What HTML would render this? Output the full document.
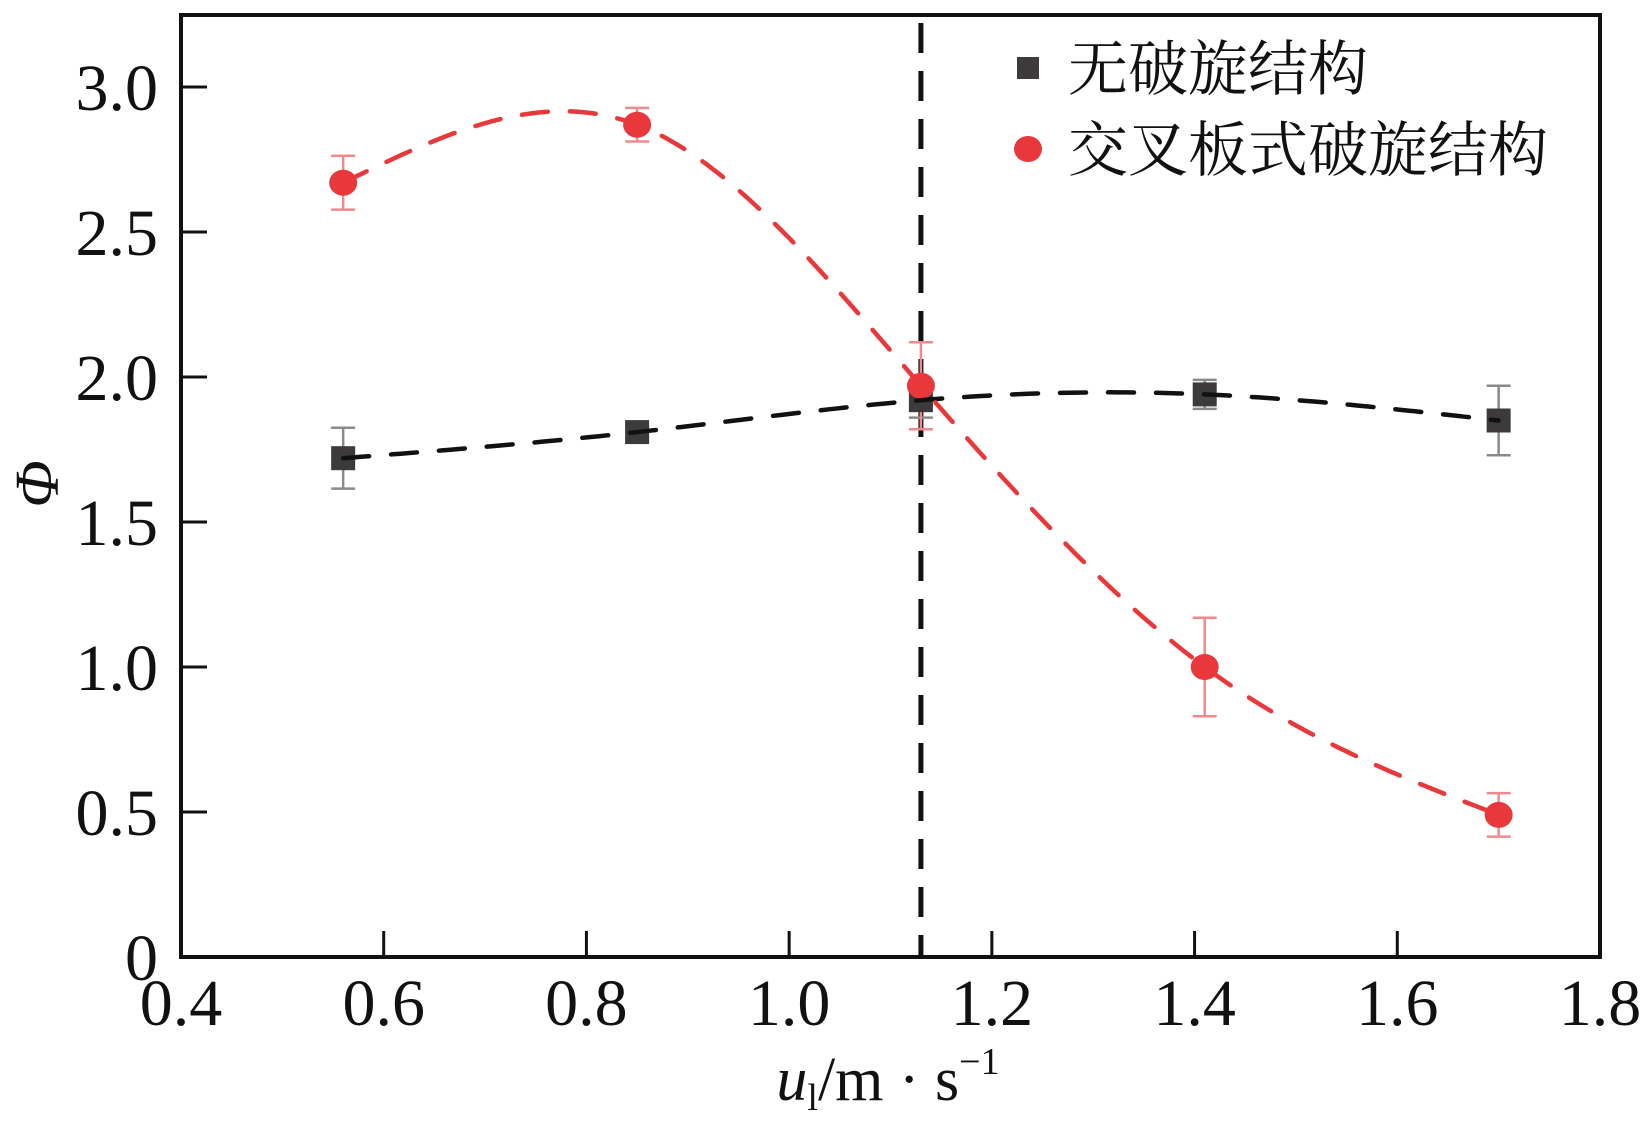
<!DOCTYPE html>
<html><head><meta charset="utf-8"><style>
html,body{margin:0;padding:0;background:#fff;}
svg{display:block;}
text{font-family:"Liberation Serif","Noto Serif CJK SC",serif;fill:#111;}
</style></head><body>
<svg id="chart" width="1645" height="1124" viewBox="0 0 1645 1124" xmlns="http://www.w3.org/2000/svg">
<g id="plot"></g>
</svg>
<script>
const xCats = [0.56, 0.85, 1.13, 1.41, 1.70];
const blackVals = [1.72, 1.81, 1.92, 1.94, 1.85];
const blackErr = [0.105, 0.02, 0.06, 0.05, 0.12];
const redVals = [2.67, 2.87, 1.97, 1.00, 0.49];
const redErr = [0.093, 0.058, 0.15, 0.17, 0.075];
const xTicks = [0.4, 0.6, 0.8, 1.0, 1.2, 1.4, 1.6, 1.8];
const xTickLabels = ["0.4","0.6","0.8","1.0","1.2","1.4","1.6","1.8"];
const yTicks = [0, 0.5, 1.0, 1.5, 2.0, 2.5, 3.0];
const yTickLabels = ["0","0.5","1.0","1.5","2.0","2.5","3.0"];
const vLineX = 1.13;

const L=181,R=1600,T=15,B=957;
const xs = v => L + (v-0.4)/(1.4)*(R-L);
const ys = v => B - v*290;
const NS="http://www.w3.org/2000/svg";
const g=document.getElementById('plot');
function mk(tag,attrs,parent){const e=document.createElementNS(NS,tag);for(const k in attrs)e.setAttribute(k,attrs[k]);(parent||g).appendChild(e);return e;}

let fr=mk('rect',{x:L,y:T,width:R-L,height:B-T,fill:'none',stroke:'#111','stroke-width':4});



xTicks.forEach((t,i)=>{
  if(i>0&&i<xTicks.length-1){
    let tk=mk('line',{x1:xs(t),x2:xs(t),y1:B,y2:B-26,stroke:'#111','stroke-width':3});
    
    
  }
  let tl=mk('text',{x:xs(t),y:1025,'font-size':66,'text-anchor':'middle'});
  tl.textContent=xTickLabels[i];
  
  
});
yTicks.forEach((t,i)=>{
  if(i>0){
    let tk=mk('line',{x1:L,x2:L+26,y1:ys(t),y2:ys(t),stroke:'#111','stroke-width':3});
    
    
  }
  let tl=mk('text',{x:158,y:ys(t)+23,'font-size':66,'text-anchor':'end'});
  tl.textContent=yTickLabels[i];
  
  
});

let vl=mk('line',{x1:xs(vLineX),x2:xs(vLineX),y1:T+8,y2:B,stroke:'#111','stroke-width':5,'stroke-dasharray':'30 18'});



// natural cubic spline through data
function spline(xa,ya){
  const n=xa.length,h=[],al=[],l=[1],mu=[0],z=[0],c=new Array(n).fill(0),b=[],d=[];
  for(let i=0;i<n-1;i++)h[i]=xa[i+1]-xa[i];
  for(let i=1;i<n-1;i++)al[i]=3/h[i]*(ya[i+1]-ya[i])-3/h[i-1]*(ya[i]-ya[i-1]);
  for(let i=1;i<n-1;i++){l[i]=2*(xa[i+1]-xa[i-1])-h[i-1]*mu[i-1];mu[i]=h[i]/l[i];z[i]=(al[i]-h[i-1]*z[i-1])/l[i];}
  for(let j=n-2;j>=0;j--){c[j]=(z[j]||0)-(mu[j]||0)*c[j+1];b[j]=(ya[j+1]-ya[j])/h[j]-h[j]*(c[j+1]+2*c[j])/3;d[j]=(c[j+1]-c[j])/(3*h[j]);}
  return x=>{let j=0;while(j<n-2&&x>xa[j+1])j++;const t=x-xa[j];return ya[j]+b[j]*t+c[j]*t*t+d[j]*t*t*t;};
}
function curve(vals,color,name){
  const f=spline(xCats,vals);
  let d='';const n=140;const x0=xCats[0],x1=xCats[xCats.length-1];
  for(let k=0;k<=n;k++){const x=x0+(x1-x0)*k/n;d+=(k?'L':'M')+xs(x).toFixed(1)+','+ys(f(x)).toFixed(1);}
  let p=mk('path',{d:d,fill:'none',stroke:color,'stroke-width':4.5,'stroke-dasharray':'26 22','stroke-linecap':'round'});
  
  
}
function errbars(vals,errs,color,name){
  vals.forEach((v,i)=>{
    const x=xs(xCats[i]);
    const eg=mk('g',{stroke:color,'stroke-width':2.5});
    
    
    mk('line',{x1:x,x2:x,y1:ys(v+errs[i]),y2:ys(v-errs[i])},eg);
    mk('line',{x1:x-12,x2:x+12,y1:ys(v+errs[i]),y2:ys(v+errs[i])},eg);
    mk('line',{x1:x-12,x2:x+12,y1:ys(v-errs[i]),y2:ys(v-errs[i])},eg);
  });
}
errbars(blackVals,blackErr,'#8a8a8a','black-error-bar');
errbars(redVals,redErr,'#f08a8a','red-error-bar');
blackVals.forEach((v,i)=>{
  let s=mk('rect',{x:xs(xCats[i])-12,y:ys(v)-12,width:24,height:24,fill:'#3c3a3a'});
  
  
});
redVals.forEach((v,i)=>{
  let c=mk('ellipse',{cx:xs(xCats[i]),cy:ys(v),rx:14,ry:13,fill:'#e8383c'});
  
  
});
curve(blackVals,'#111','no-swirl-fit-line');
curve(redVals,'#e8383c','cross-plate-fit-line');

const lg=mk('g',{});


let ls=mk('rect',{x:1017,y:57,width:22,height:22,fill:'#3c3a3a'},lg);


let lt1=mk('text',{x:1068,y:90,'font-size':60},lg);lt1.textContent='无破旋结构';


let lc=mk('ellipse',{cx:1028,cy:149,rx:14,ry:13,fill:'#e8383c'},lg);


let lt2=mk('text',{x:1068,y:171,'font-size':60},lg);lt2.textContent='交叉板式破旋结构';



let xt=mk('text',{x:888,y:1100,'font-size':62,'text-anchor':'middle'});
xt.innerHTML='<tspan font-style="italic">u</tspan><tspan font-size="38" dy="10">l</tspan><tspan dy="-10">/m · s</tspan><tspan font-size="38" dy="-26">−1</tspan>';


let yt=mk('text',{x:0,y:0,'font-size':62,'font-style':'italic','text-anchor':'middle',transform:'translate(58,484) rotate(-90)'});
yt.textContent='Φ';


</script>
</body></html>
